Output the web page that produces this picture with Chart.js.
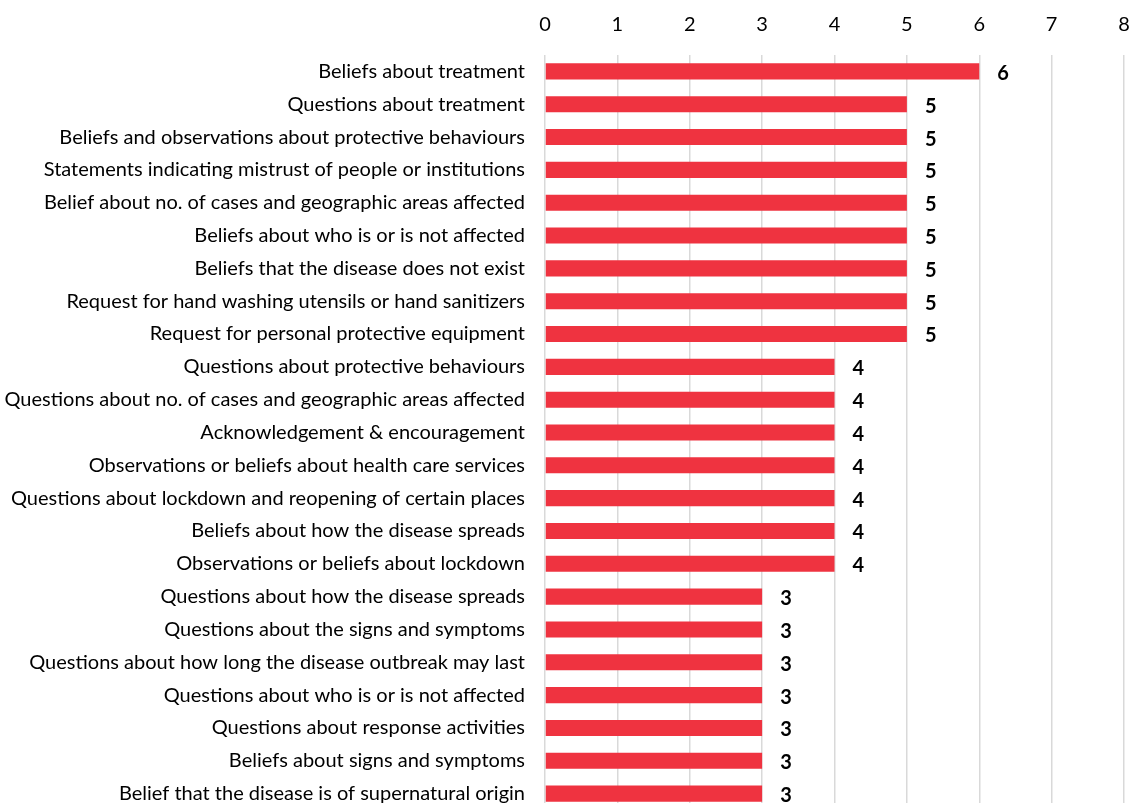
<!DOCTYPE html>
<html>
<head>
<meta charset="utf-8">
<script src="https://cdn.jsdelivr.net/npm/chart.js@4.4.1/dist/chart.umd.min.js"></script>
<style>
  html, body { margin: 0; padding: 0; background: #fff; overflow: hidden; }
  canvas { display: block; }
</style>
</head>
<body>
<canvas id="chart" width="1131" height="810"></canvas>
<script>
// categories, top to bottom
const categories = [
  'Beliefs about treatment',
  'Questions about treatment',
  'Beliefs and observations about protective behaviours',
  'Statements indicating mistrust of people or institutions',
  'Belief about no. of cases and geographic areas affected',
  'Beliefs about who is or is not affected',
  'Beliefs that the disease does not exist',
  'Request for hand washing utensils or hand sanitizers',
  'Request for personal protective equipment',
  'Questions about protective behaviours',
  'Questions about no. of cases and geographic areas affected',
  'Acknowledgement & encouragement',
  'Observations or beliefs about health care services',
  'Questions about lockdown and reopening of certain places',
  'Beliefs about how the disease spreads',
  'Observations or beliefs about lockdown',
  'Questions about how the disease spreads',
  'Questions about the signs and symptoms',
  'Questions about how long the disease outbreak may last',
  'Questions about who is or is not affected',
  'Questions about response activities',
  'Beliefs about signs and symptoms',
  'Belief that the disease is of supernatural origin'
];
const counts = [6, 5, 5, 5, 5, 5, 5, 5, 5, 4, 4, 4, 4, 4, 4, 4, 3, 3, 3, 3, 3, 3, 3];
const xTicks = [0, 1, 2, 3, 4, 5, 6, 7, 8];

const FONT = 'Lato, "Open Sans", sans-serif';

// draws the bold value next to each bar
const valueLabels = {
  id: 'valueLabels',
  afterDatasetsDraw(chart) {
    const ctx = chart.ctx;
    const meta = chart.getDatasetMeta(0);
    ctx.save();
    ctx.font = 'bold 20px ' + FONT;
    ctx.fillStyle = '#000';
    ctx.textAlign = 'left';
    ctx.textBaseline = 'middle';
    meta.data.forEach((bar, i) => {
      ctx.fillText(counts[i], bar.x + 18, bar.y + 2);
    });
    ctx.restore();
  }
};

const ctx = document.getElementById('chart').getContext('2d');
new Chart(ctx, {
  type: 'bar',
  data: {
    labels: categories,
    datasets: [{
      data: counts,
      backgroundColor: '#EF3340',
      borderWidth: 0,
      categoryPercentage: 1,
      barPercentage: 0.49
    }]
  },
  options: {
    indexAxis: 'y',
    responsive: false,
    animation: false,
    layout: { padding: { left: 0, right: 7, top: 0, bottom: 0 } },
    plugins: { legend: { display: false }, tooltip: { enabled: false } },
    scales: {
      x: {
        position: 'top',
        min: 0,
        max: 8,
        afterBuildTicks(scale) { scale.ticks = xTicks.map(v => ({ value: v })); },
        afterFit(scale) {
          scale.height = 55;
          scale.paddingLeft = 0;
          scale.paddingRight = 0;
        },
        border: { display: false },
        grid: { color: '#d9d9d9', lineWidth: 1.5, drawTicks: false },
        ticks: { color: '#000', font: { family: FONT, size: 20 }, padding: 18 }
      },
      y: {
        afterFit(scale) {
          scale.width = 545;
          scale.paddingTop = 0;
          scale.paddingBottom = 0;
        },
        border: { display: false },
        grid: { display: false },
        ticks: { color: '#000', font: { family: FONT, size: 20 }, padding: 12, autoSkip: false }
      }
    }
  },
  plugins: [valueLabels]
});
</script>
</body>
</html>
